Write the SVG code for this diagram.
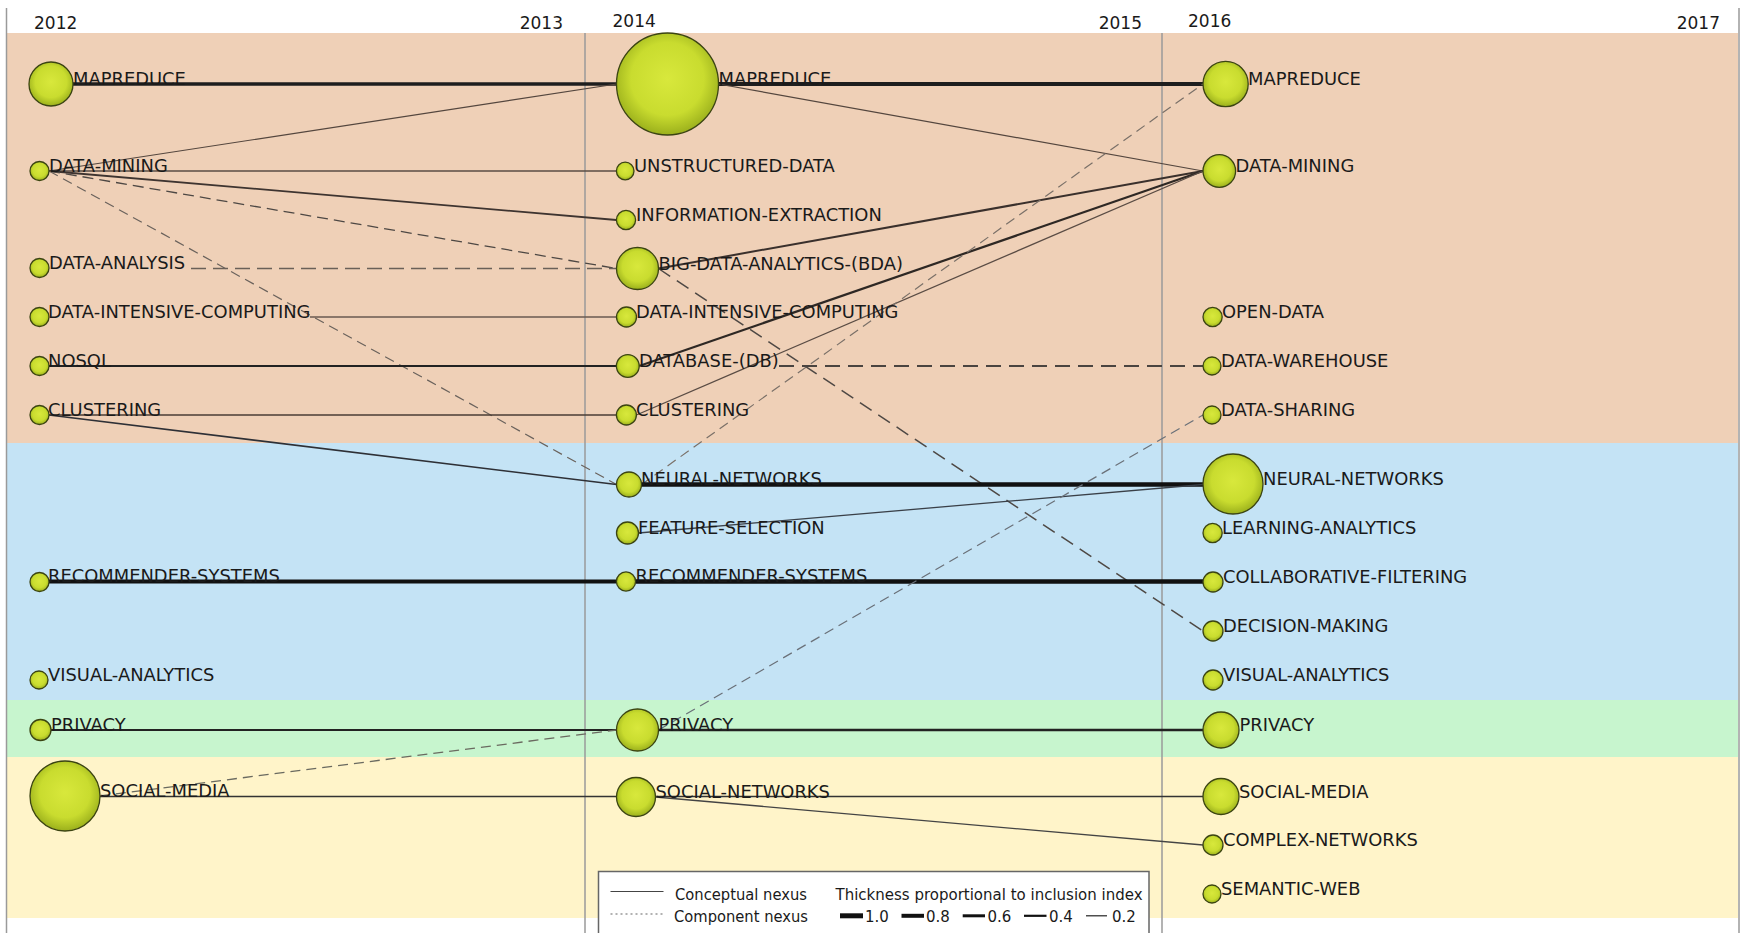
<svg xmlns="http://www.w3.org/2000/svg" width="1741" height="933" viewBox="0 0 1741 933">
<defs>
<radialGradient id="ball" cx="50%" cy="45%" r="55%">
<stop offset="0" stop-color="#d8e83c"/>
<stop offset="0.65" stop-color="#c9dc2f"/>
<stop offset="1" stop-color="#9bb01c"/>
</radialGradient>
<style>
.yr{font-family:"DejaVu Sans","Liberation Sans",sans-serif;font-size:17px;fill:#1a1a1a}
.lb{font-family:"DejaVu Sans","Liberation Sans",sans-serif;font-size:17.9px;fill:#1a1a1a}
.lg{font-family:"DejaVu Sans","Liberation Sans",sans-serif;font-size:15px;fill:#1a1a1a}
circle.n{fill:url(#ball);stroke:#3b4412;stroke-width:1.3}
.grid{stroke:#9a9a9a;stroke-width:1.5}
#connectors line{fill:none;stroke-linecap:butt}
.s1{stroke:#54463e;stroke-width:1.2}
.s15{stroke:#5a4c44;stroke-width:1.5}
.s2{stroke:#2e2824;stroke-width:2}
.s3{stroke:#1e1e1e;stroke-width:3.5}
.s4{stroke:#111;stroke-width:4.5}
.d1{stroke:#6a625c;stroke-width:1.2;stroke-dasharray:10 6}
.d15{stroke:#4e4844;stroke-width:1.5;stroke-dasharray:14 8}
.d2{stroke:#4a4440;stroke-width:2;stroke-dasharray:15 8}
</style>
</defs>
<rect x="0" y="0" width="1741" height="933" fill="#ffffff"/>
<g id="bands">
<rect x="7" y="33" width="1731" height="410" fill="#efd0b7"/>
<rect x="7" y="443" width="1731" height="257" fill="#c4e3f5"/>
<rect x="7" y="700" width="1731" height="57" fill="#c7f5ce"/>
<rect x="7" y="757" width="1731" height="161" fill="#fff4c9"/>
</g>
<g id="grid">
<line class="grid" x1="6.5" y1="8" x2="6.5" y2="933"/>
<line class="grid" x1="585" y1="33" x2="585" y2="933"/>
<line class="grid" x1="1162" y1="33" x2="1162" y2="933"/>
<line class="grid" x1="1739" y1="8" x2="1739" y2="933"/>
</g>
<g id="years">
<text class="yr" x="34" y="29">2012</text>
<text class="yr" x="563" y="29" text-anchor="end">2013</text>
<text class="yr" x="612.5" y="27">2014</text>
<text class="yr" x="1142" y="29" text-anchor="end">2015</text>
<text class="yr" x="1188" y="27">2016</text>
<text class="yr" x="1720" y="29" text-anchor="end">2017</text>
</g>
<g id="connectors">
<line class="s3" x1="73" y1="84" x2="616.5" y2="84"/>
<line class="s1" x1="49" y1="171" x2="616.5" y2="84"/>
<line class="s15" x1="49" y1="171" x2="616.4" y2="171"/>
<line class="s2" x1="49" y1="171" x2="616.4" y2="220" style="stroke:#3e3430;stroke-width:1.8"/>
<line class="d15" x1="49" y1="171" x2="616.5" y2="268.5" style="stroke-width:1.3;stroke-dasharray:11 6"/>
<line class="d1" x1="49" y1="171" x2="616.5" y2="484.5"/>
<line class="d15" x1="191" y1="268.5" x2="616.5" y2="268.5" style="stroke:#6a6058;stroke-dasharray:15 7"/>
<line class="s15" x1="310" y1="317" x2="616.5" y2="317" style="stroke:#6a5a50"/>
<line class="s2" x1="49" y1="366" x2="616.4" y2="366" style="stroke:#222"/>
<line class="s15" x1="49" y1="415" x2="616.4" y2="415" style="stroke:#4a3c34"/>
<line class="s15" x1="49" y1="415" x2="616.5" y2="484.5" style="stroke:#2e3036;stroke-width:1.6"/>
<line class="s4" x1="49" y1="581.5" x2="616.4" y2="581.5" style="stroke-width:4"/>
<line class="s2" x1="51" y1="730" x2="616.5" y2="730" style="stroke:#222"/>
<line class="d1" x1="100" y1="796" x2="616.5" y2="730" style="stroke:#6a6a60;stroke-width:1.3"/>
<line class="s15" x1="100" y1="796.5" x2="616.5" y2="796.5" style="stroke:#333"/>
<line class="s3" x1="718.5" y1="84" x2="1203" y2="84" style="stroke-width:4"/>
<line class="s1" x1="718.5" y1="84" x2="1203" y2="171"/>
<line class="s2" x1="658.5" y1="268.5" x2="1203" y2="171" style="stroke:#3a302c"/>
<line class="s2" x1="639.2" y1="366" x2="1203" y2="171" style="stroke-width:2.2"/>
<line class="s15" x1="636.4" y1="415" x2="1203" y2="171" style="stroke-width:1.3"/>
<line class="d1" x1="641.5" y1="484.5" x2="1203" y2="84" style="stroke:#7a7068"/>
<line class="d2" x1="779" y1="366" x2="1203" y2="366"/>
<line class="d15" x1="658.5" y1="268.5" x2="1203" y2="631"/>
<line class="s4" x1="641.5" y1="484.5" x2="1203" y2="484.5"/>
<line class="s15" x1="638.5" y1="533" x2="1203" y2="484.5" style="stroke:#3a4048;stroke-width:1.3"/>
<line class="s4" x1="635.6" y1="581.5" x2="1203" y2="581.5"/>
<line class="d1" x1="658.5" y1="730" x2="1203" y2="415" style="stroke:#6a7078"/>
<line class="s3" x1="658.5" y1="730" x2="1203" y2="730" style="stroke-width:2.5;stroke:#222"/>
<line class="s15" x1="655.5" y1="796.5" x2="1203" y2="796.5" style="stroke:#333"/>
<line class="s15" x1="655.5" y1="797" x2="1203" y2="845" style="stroke:#444;stroke-width:1.3"/>
</g>
<g id="n2012-mapreduce"><circle class="n" cx="51" cy="84" r="22"/><text class="lb" x="73" y="85">MAPREDUCE</text></g>
<g id="n2012-data-mining"><circle class="n" cx="39.5" cy="171" r="9.5"/><text class="lb" x="49" y="172">DATA-MINING</text></g>
<g id="n2012-data-analysis"><circle class="n" cx="39.5" cy="268" r="9.5"/><text class="lb" x="49" y="269">DATA-ANALYSIS</text></g>
<g id="n2012-data-intensive-computing"><circle class="n" cx="39.5" cy="317" r="9.5"/><text class="lb" x="48" y="318">DATA-INTENSIVE-COMPUTING</text></g>
<g id="n2012-nosql"><circle class="n" cx="39.5" cy="366" r="9.5"/><text class="lb" x="48" y="367">NOSQL</text></g>
<g id="n2012-clustering"><circle class="n" cx="39.5" cy="415" r="9.5"/><text class="lb" x="48" y="416">CLUSTERING</text></g>
<g id="n2012-recommender-systems"><circle class="n" cx="39.5" cy="582" r="9.5"/><text class="lb" x="48" y="582">RECOMMENDER-SYSTEMS</text></g>
<g id="n2012-visual-analytics"><circle class="n" cx="39" cy="680" r="9"/><text class="lb" x="48" y="681">VISUAL-ANALYTICS</text></g>
<g id="n2012-privacy"><circle class="n" cx="40.5" cy="730" r="10.5"/><text class="lb" x="51" y="731">PRIVACY</text></g>
<g id="n2012-social-media"><circle class="n" cx="65" cy="796" r="35"/><text class="lb" x="100" y="797">SOCIAL-MEDIA</text></g>
<g id="n2014-mapreduce"><circle class="n" cx="667.5" cy="84" r="51"/><text class="lb" x="718.5" y="85">MAPREDUCE</text></g>
<g id="n2014-unstructured-data"><circle class="n" cx="625.2" cy="171" r="8.8"/><text class="lb" x="634" y="172">UNSTRUCTURED-DATA</text></g>
<g id="n2014-information-extraction"><circle class="n" cx="626" cy="220" r="9.6"/><text class="lb" x="636" y="221">INFORMATION-EXTRACTION</text></g>
<g id="n2014-big-data-analytics"><circle class="n" cx="637.5" cy="268.5" r="21"/><text class="lb" x="658.5" y="270">BIG-DATA-ANALYTICS-(BDA)</text></g>
<g id="n2014-data-intensive-computing"><circle class="n" cx="626.5" cy="317" r="10"/><text class="lb" x="636" y="318">DATA-INTENSIVE-COMPUTING</text></g>
<g id="n2014-database"><circle class="n" cx="627.8" cy="366" r="11.4"/><text class="lb" x="639" y="367">DATABASE-(DB)</text></g>
<g id="n2014-clustering"><circle class="n" cx="626.4" cy="415" r="10"/><text class="lb" x="636" y="416">CLUSTERING</text></g>
<g id="n2014-neural-networks"><circle class="n" cx="629" cy="484.5" r="12.5"/><text class="lb" x="641" y="485">NEURAL-NETWORKS</text></g>
<g id="n2014-feature-selection"><circle class="n" cx="627.5" cy="533" r="11"/><text class="lb" x="638" y="534">FEATURE-SELECTION</text></g>
<g id="n2014-recommender-systems"><circle class="n" cx="626" cy="581.5" r="9.6"/><text class="lb" x="635.5" y="582">RECOMMENDER-SYSTEMS</text></g>
<g id="n2014-privacy"><circle class="n" cx="637.5" cy="730" r="21"/><text class="lb" x="658.5" y="731">PRIVACY</text></g>
<g id="n2014-social-networks"><circle class="n" cx="636" cy="797" r="19.5"/><text class="lb" x="655.5" y="797.5">SOCIAL-NETWORKS</text></g>
<g id="n2016-mapreduce"><circle class="n" cx="1225.6" cy="84" r="22.6"/><text class="lb" x="1248" y="85">MAPREDUCE</text></g>
<g id="n2016-data-mining"><circle class="n" cx="1219.3" cy="171" r="16.3"/><text class="lb" x="1235.5" y="172">DATA-MINING</text></g>
<g id="n2016-open-data"><circle class="n" cx="1212.6" cy="317" r="9.6"/><text class="lb" x="1222" y="318">OPEN-DATA</text></g>
<g id="n2016-data-warehouse"><circle class="n" cx="1212" cy="366" r="9"/><text class="lb" x="1221" y="367">DATA-WAREHOUSE</text></g>
<g id="n2016-data-sharing"><circle class="n" cx="1212" cy="415" r="9"/><text class="lb" x="1221" y="416">DATA-SHARING</text></g>
<g id="n2016-neural-networks"><circle class="n" cx="1233" cy="484" r="30"/><text class="lb" x="1263" y="485">NEURAL-NETWORKS</text></g>
<g id="n2016-learning-analytics"><circle class="n" cx="1212.6" cy="533" r="9.6"/><text class="lb" x="1222" y="534">LEARNING-ANALYTICS</text></g>
<g id="n2016-collaborative-filtering"><circle class="n" cx="1213" cy="582" r="10"/><text class="lb" x="1223" y="583">COLLABORATIVE-FILTERING</text></g>
<g id="n2016-decision-making"><circle class="n" cx="1213" cy="631" r="10"/><text class="lb" x="1223" y="632">DECISION-MAKING</text></g>
<g id="n2016-visual-analytics"><circle class="n" cx="1213" cy="680" r="10"/><text class="lb" x="1223" y="681">VISUAL-ANALYTICS</text></g>
<g id="n2016-privacy"><circle class="n" cx="1221" cy="730" r="18"/><text class="lb" x="1239.5" y="731">PRIVACY</text></g>
<g id="n2016-social-media"><circle class="n" cx="1221" cy="796.5" r="18"/><text class="lb" x="1239" y="797.5">SOCIAL-MEDIA</text></g>
<g id="n2016-complex-networks"><circle class="n" cx="1213" cy="845" r="10"/><text class="lb" x="1223" y="846">COMPLEX-NETWORKS</text></g>
<g id="n2016-semantic-web"><circle class="n" cx="1212" cy="894" r="9"/><text class="lb" x="1221" y="895">SEMANTIC-WEB</text></g>
<g id="legend">
<rect x="598.5" y="871.5" width="550.5" height="80" fill="#ffffff" stroke="#666" stroke-width="1.5"/>
<line x1="610.5" y1="891.5" x2="663.5" y2="891.5" stroke="#444" stroke-width="1.2"/>
<line x1="610.5" y1="914" x2="663.5" y2="914" stroke="#666" stroke-width="1.2" stroke-dasharray="2 3"/>
<text class="lg" x="675" y="900" textLength="132" lengthAdjust="spacingAndGlyphs">Conceptual nexus</text>
<text class="lg" x="674" y="921.5" textLength="134" lengthAdjust="spacingAndGlyphs">Component nexus</text>
<text class="lg" x="835.5" y="900">Thickness proportional to inclusion index</text>
<line x1="840" y1="915.8" x2="863" y2="915.8" stroke="#111" stroke-width="5"/>
<text class="lg" x="865" y="921.5">1.0</text>
<line x1="901.5" y1="915.8" x2="924" y2="915.8" stroke="#111" stroke-width="4"/>
<text class="lg" x="926" y="921.5">0.8</text>
<line x1="962.7" y1="915.8" x2="985" y2="915.8" stroke="#111" stroke-width="3"/>
<text class="lg" x="987.5" y="921.5">0.6</text>
<line x1="1024" y1="915.8" x2="1046.5" y2="915.8" stroke="#111" stroke-width="2.2"/>
<text class="lg" x="1049" y="921.5">0.4</text>
<line x1="1086" y1="915.8" x2="1107" y2="915.8" stroke="#222" stroke-width="1.2"/>
<text class="lg" x="1112" y="921.5">0.2</text>
</g>
</svg>
